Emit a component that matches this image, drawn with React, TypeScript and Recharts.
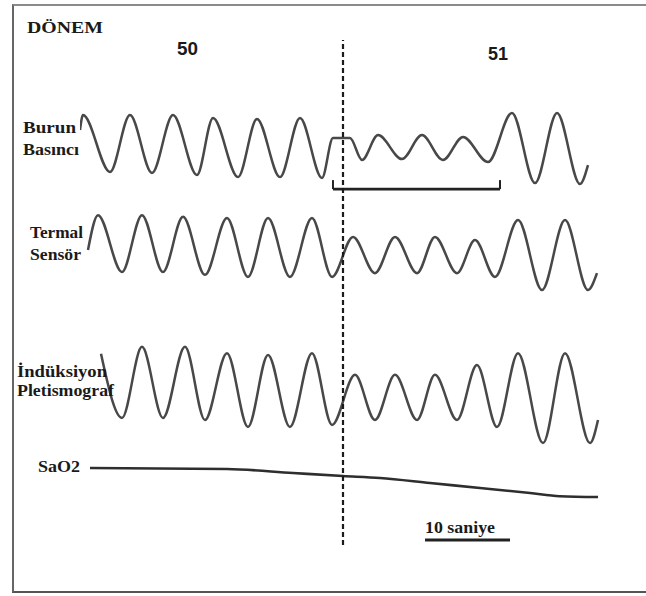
import React, { useLayoutEffect } from 'react';
import { LineChart, Line, XAxis, YAxis, ReferenceLine } from 'recharts';

// Time in seconds, relative to the boundary between epoch 50 and epoch 51.
const burunT = [-30.94, -30.59, -27.41, -25.06, -22.47, -20.0, -17.18, -15.29, -12.35, -10.12, -7.41, -5.06, -2.47, -1.18, 0.82, 2.24, 4.12, 6.94, 9.29, 11.76, 14.12, 17.06, 19.88, 22.59, 25.18, 27.88, 28.82];
const burunV = [0.5, 1.0, -0.9, 1.0, -0.93, 1.0, -1.0, 0.9, -1.07, 0.87, -1.07, 0.9, -1.1, 0.23, 0.23, -0.5, 0.33, -0.47, 0.33, -0.5, 0.27, -0.57, 1.07, -1.27, 1.07, -1.3, -0.67];

const termalT = [-30.0, -28.82, -26.0, -23.65, -21.18, -18.82, -16.24, -13.65, -11.18, -8.82, -6.24, -3.65, -1.29, 1.18, 3.76, 6.12, 8.71, 10.82, 13.41, 15.53, 17.88, 20.59, 23.41, 26.12, 28.82, 29.88];
const termalV = [-0.17, 1.03, -0.93, 1.03, -0.93, 0.97, -1.03, 0.93, -1.1, 0.93, -1.1, 0.93, -1.1, 0.28, -0.97, 0.28, -0.97, 0.28, -0.97, 0.17, -1.1, 0.86, -1.55, 0.86, -1.55, -0.97];

const induksiyonT = [-28.47, -26.0, -23.65, -21.18, -18.59, -16.24, -13.65, -11.18, -8.82, -6.24, -3.65, -1.29, 1.41, 3.76, 6.12, 8.71, 10.82, 13.41, 15.76, 18.12, 20.59, 23.53, 26.12, 29.06, 30.0];
const induksiyonV = [0.89, -0.94, 1.09, -0.94, 1.09, -1.0, 0.91, -1.2, 0.86, -1.2, 0.91, -1.14, 0.29, -1.0, 0.29, -1.0, 0.29, -1.0, 0.57, -1.2, 0.91, -1.66, 0.91, -1.66, -1.0];

const sao2T = [-29.76, -13.65, -5.88, 0, 4.35, 10.24, 16.12, 22.0, 25.5, 30.0];
const sao2V = [96.0, 95.83, 95.17, 94.67, 94.33, 93.5, 92.67, 91.83, 91.3, 91.17];

// hypopnea event bracket under the nasal pressure trace
const eventStart = -1.18;
const eventEnd = 18.47;
const eventLevel = -1.47;
const eventTick = -1.17;

// 10 second scale bar
const scaleStart = 9.65;
const scaleSeconds = 10;
const scaleLevel = 84.0;

const zip = (t: number[], v: number[]) => t.map((x, i) => ({ t: x, v: v[i] }));

const W = 646;
const H = 596;
const PLOT_TOP = 40;
const PLOT_BOTTOM = 545;

// y domain that puts centerValue at centerPx with the given pixel scale
function band(centerPx: number, centerValue: number, pxPerUnit: number): [number, number] {
  return [
    centerValue - (PLOT_BOTTOM - centerPx) / pxPerUnit,
    centerValue + (centerPx - PLOT_TOP) / pxPerUnit,
  ];
}

const TRACE = '#484848';
const INK = '#1a1a1a';

const labels = [
  { text: 'DÖNEM', x: 27, y: 33, w: 76, size: 17, serif: true },
  { text: '50', x: 177, y: 55, w: 21, size: 19, serif: false },
  { text: '51', x: 488, y: 60, w: 20, size: 19, serif: false },
  { text: 'Burun', x: 23, y: 133, w: 53, size: 16, serif: true },
  { text: 'Basıncı', x: 23, y: 155, w: 56, size: 16, serif: true },
  { text: 'Termal', x: 30, y: 238, w: 53, size: 16, serif: true },
  { text: 'Sensör', x: 30, y: 260, w: 51, size: 16, serif: true },
  { text: 'İndüksiyon', x: 17, y: 377, w: 90, size: 16, serif: true },
  { text: 'Pletismograf', x: 17, y: 396, w: 97, size: 16, serif: true },
  { text: 'SaO2', x: 38, y: 472, w: 42, size: 16, serif: true },
  { text: '10 saniye', x: 425, y: 533, w: 70, size: 16, serif: true },
];

export default function App() {
  // keep the page from growing scrollbars around the fixed-size figure
  useLayoutEffect(() => {
    document.documentElement.style.overflow = 'hidden';
    document.body.style.overflow = 'hidden';
    document.body.style.margin = '0';
  }, []);

  return (
    <div style={{ position: 'fixed', left: 0, top: 0, width: W, height: H, overflow: 'hidden', background: '#fff' }}>
      <div
        style={{
          position: 'absolute',
          left: 12,
          top: 4,
          width: W - 12,
          height: 589,
          boxSizing: 'border-box',
          borderTop: '2px solid #8a8a8a',
          borderLeft: '2px solid #666',
          borderBottom: '2px solid #555',
        }}
      />
      <LineChart width={W} height={H} margin={{ top: PLOT_TOP, right: 40, bottom: H - PLOT_BOTTOM, left: 80 }}>
        <XAxis type="number" dataKey="t" domain={[-30.94, 30.94]} hide allowDataOverflow />
        <YAxis yAxisId="burun" type="number" domain={band(145, 0, 30)} hide allowDataOverflow />
        <YAxis yAxisId="termal" type="number" domain={band(245, 0, 29)} hide allowDataOverflow />
        <YAxis yAxisId="induksiyon" type="number" domain={band(385, 0, 35)} hide allowDataOverflow />
        <YAxis yAxisId="sao2" type="number" domain={band(468, 96, 6)} hide allowDataOverflow />

        <Line yAxisId="burun" data={zip(burunT, burunV)} dataKey="v" type="monotone" stroke={TRACE} strokeWidth={2.5} dot={false} isAnimationActive={false} />
        <Line yAxisId="termal" data={zip(termalT, termalV)} dataKey="v" type="monotone" stroke={TRACE} strokeWidth={2.5} dot={false} isAnimationActive={false} />
        <Line yAxisId="induksiyon" data={zip(induksiyonT, induksiyonV)} dataKey="v" type="monotone" stroke={TRACE} strokeWidth={2.5} dot={false} isAnimationActive={false} />
        <Line yAxisId="sao2" data={zip(sao2T, sao2V)} dataKey="v" type="monotone" stroke="#2e2e2e" strokeWidth={2.6} dot={false} isAnimationActive={false} />

        <ReferenceLine yAxisId="burun" segment={[{ x: eventStart, y: eventLevel }, { x: eventEnd, y: eventLevel }]} stroke="#222" strokeWidth={2.8} />
        <ReferenceLine yAxisId="burun" segment={[{ x: eventStart, y: eventTick }, { x: eventStart, y: eventLevel }]} stroke="#222" strokeWidth={2} />
        <ReferenceLine yAxisId="burun" segment={[{ x: eventEnd, y: eventTick }, { x: eventEnd, y: eventLevel }]} stroke="#222" strokeWidth={2} />

        <ReferenceLine yAxisId="sao2" segment={[{ x: scaleStart, y: scaleLevel }, { x: scaleStart + scaleSeconds, y: scaleLevel }]} stroke="#222" strokeWidth={2.8} />

        <ReferenceLine yAxisId="burun" x={0} stroke="#1a1a1a" strokeWidth={2.2} strokeDasharray="5 3" />
      </LineChart>
      <svg width={W} height={H} style={{ position: 'absolute', left: 0, top: 0, pointerEvents: 'none' }}>
        {labels.map((l) => (
          <text
            key={l.text}
            x={l.x}
            y={l.y}
            textLength={l.w}
            lengthAdjust="spacingAndGlyphs"
            fontSize={l.size}
            fontWeight="bold"
            fontFamily={l.serif ? '"Liberation Serif", "Times New Roman", serif' : '"Liberation Sans", Arial, sans-serif'}
            fill={INK}
          >
            {l.text}
          </text>
        ))}
      </svg>
    </div>
  );
}
